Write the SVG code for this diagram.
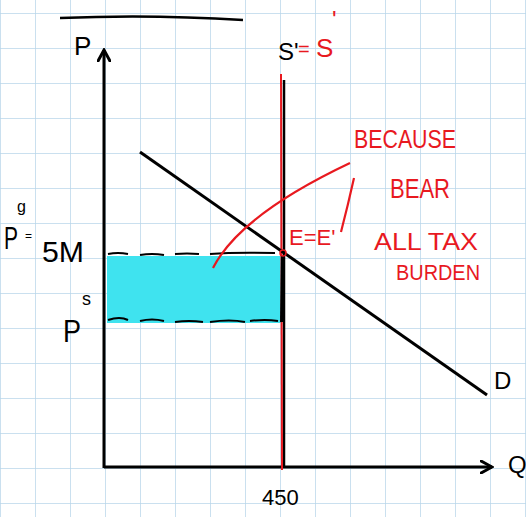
<svg xmlns="http://www.w3.org/2000/svg" width="526" height="517" viewBox="0 0 526 517">
<defs>
<pattern id="grid" width="35" height="35" patternUnits="userSpaceOnUse" x="0" y="13">
<path d="M0 0H35M0 0V35" fill="none" stroke="#b9d6ea" stroke-width="1.5"/>
</pattern>
<marker id="arr" markerWidth="14" markerHeight="14" refX="12" refY="7" orient="auto" markerUnits="userSpaceOnUse">
<path d="M1 1L12 7L1 13" fill="none" stroke="#000" stroke-width="3" stroke-linecap="round"/>
</marker>
<style>
.k{fill:#000;font-family:"Liberation Sans",sans-serif}
.r{fill:#e8191f;font-family:"Liberation Sans",sans-serif}
.ax{stroke:#000;stroke-width:3;fill:none}
</style>
</defs>
<rect width="526" height="517" fill="#fff"/>
<rect width="526" height="517" fill="url(#grid)"/>
<path d="M60 18Q150 14 243 20" stroke="#000" stroke-width="2.5" fill="none"/>
<g id="shade">
<rect x="107" y="256" width="174" height="67" fill="#3fe3ef"/>
<path d="M108 254q10-2 20 0M140 255q12-2 24 0M175 254q12-1 24 0M210 254q25-2 65-1" stroke="#000" stroke-width="2" fill="none"/>
<path d="M108 320q12-4 20 0M140 321q12-3 24 0M175 322q14-2 28 0M210 322q20-3 35 0M250 321q15-2 28 0" stroke="#000" stroke-width="2" fill="none"/>
</g>
<g id="connectors">
<line id="y-axis" x1="104" y1="468" x2="104" y2="50" class="ax" marker-end="url(#arr)"/>
<line id="x-axis" x1="104" y1="467" x2="492" y2="467" class="ax" marker-end="url(#arr)"/>
<line id="supply" x1="284" y1="80" x2="284" y2="468" stroke="#000" stroke-width="2.5"/>
<line id="supply-red" x1="281" y1="74" x2="282" y2="470" stroke="#e8191f" stroke-width="2"/>
<line id="demand" x1="140" y1="152" x2="487" y2="395" stroke="#000" stroke-width="3"/>
<path d="M283 256L282 322" stroke="#000" stroke-width="4"/>
<path d="M213 268Q240 215 350 163" stroke="#e8191f" stroke-width="2.2" fill="none"/>
<path d="M354 178Q348 205 341 232" stroke="#e8191f" stroke-width="2.2" fill="none"/>
<circle cx="283" cy="253" r="3" fill="none" stroke="#e8191f" stroke-width="1.5"/>
</g>
<g id="labels">
<text x="74" y="55" class="k" font-size="26">P</text>
<text x="278" y="60" class="k" font-size="24">S'</text>
<text x="298" y="56" class="r" font-size="20">=</text>
<text x="316" y="57" class="r" font-size="26">S</text>
<text x="332" y="28" class="r" font-size="24">'</text>
<text x="4" y="249" class="k" font-size="32" textLength="14" lengthAdjust="spacingAndGlyphs">P</text>
<text x="17" y="212" class="k" font-size="16">g</text>
<text x="25" y="240" class="k" font-size="12">=</text>
<text x="42" y="262" class="k" font-size="30" textLength="42" lengthAdjust="spacingAndGlyphs">5M</text>
<text x="63" y="342" class="k" font-size="32" textLength="18" lengthAdjust="spacingAndGlyphs">P</text>
<text x="82" y="305" class="k" font-size="18">s</text>
<text x="262" y="505" class="k" font-size="22">450</text>
<text x="494" y="389" class="k" font-size="24">D</text>
<text x="508" y="473" class="k" font-size="24">Q</text>
<text x="289" y="245" class="r" font-size="22">E=E'</text>
<text x="354" y="148" class="r" font-size="26" textLength="102" lengthAdjust="spacingAndGlyphs">BECAUSE</text>
<text x="390" y="198" class="r" font-size="28" textLength="60" lengthAdjust="spacingAndGlyphs">BEAR</text>
<text x="374" y="250" class="r" font-size="24" textLength="104" lengthAdjust="spacingAndGlyphs">ALL TAX</text>
<text x="396" y="280" class="r" font-size="22" textLength="84" lengthAdjust="spacingAndGlyphs">BURDEN</text>
</g>
</svg>
